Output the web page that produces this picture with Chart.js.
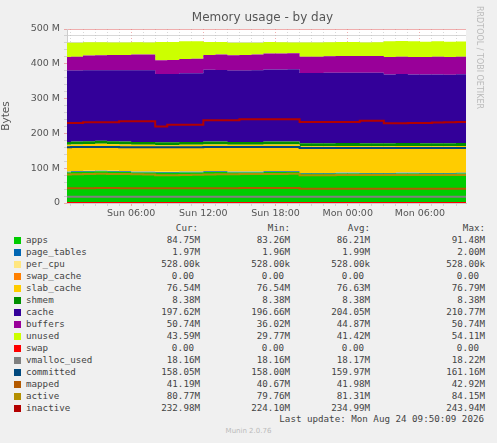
<!DOCTYPE html>
<html><head><meta charset="utf-8">
<script src="https://cdn.jsdelivr.net/npm/chart.js@4/dist/chart.umd.min.js"></script>
<style>
body{margin:0;background:#F0F0F0;width:497px;height:443px;overflow:hidden;font-family:"DejaVu Sans",sans-serif;position:relative}
#wrap{position:absolute;left:0;top:0;width:497px;height:222px}
#title{position:absolute;top:10px;left:0;width:525px;text-align:center;font-size:12px;color:#555}
#rrd{position:absolute;left:484px;top:6px;transform-origin:0 0;transform:rotate(90deg);font-size:8px;color:#bbb;white-space:nowrap}
#leg{position:absolute;left:0;top:222px;font-family:"DejaVu Sans Mono",monospace;font-size:9.2px;color:#444}
.r{position:absolute;height:12px;white-space:pre}
.sq{position:absolute;width:7px;height:7px;top:2px}
#upd{position:absolute;right:13px;top:413px;font-family:"DejaVu Sans Mono",monospace;font-size:9.2px;color:#444}
#mun{position:absolute;left:0;width:497px;text-align:center;top:427px;font-size:7px;color:#bbb}
</style></head><body>
<div id="wrap"><canvas id="c" width="497" height="222"></canvas></div>
<div id="title">Memory usage - by day</div>
<div id="rrd">RRDTOOL / TOBI OETIKER</div>
<div id="leg"></div>
<div id="upd">Last update: Mon Aug 24 09:50:09 2026</div>
<div id="mun">Munin 2.0.76</div>
<script>
const hours=[0.67,1,2,3,4,5,6,7,8,9,10,11,12,13,14,15,16,17,18,19,20,21,22,23,24,25,26,27,28,29,30,31,32,33,33.83];
const tickLabels={6:"Sun 06:00",12:"Sun 12:00",18:"Sun 18:00",24:"Mon 00:00",30:"Mon 06:00"};
const apps=[88,88,89,90,91,90,89,88,88,87,87,88,88,89,89,88,88,88,89,89,89,84,84,84,85,85,84,84,84,85,85,84,84,84,84.75];
const page_tables=[2,2,2,2,2,2,2,2,2,2,2,2,2,2,2,2,2,2,2,2,2,2,2,2,2,2,2,2,2,2,2,2,2,2,1.97];
const per_cpu=[0.53,0.53,0.53,0.53,0.53,0.53,0.53,0.53,0.53,0.53,0.53,0.53,0.53,0.53,0.53,0.53,0.53,0.53,0.53,0.53,0.53,0.53,0.53,0.53,0.53,0.53,0.53,0.53,0.53,0.53,0.53,0.53,0.53,0.53,0.53];
const swap_cache=[0,0,0,0,0,0,0,0,0,0,0,0,0,0,0,0,0,0,0,0,0,0,0,0,0,0,0,0,0,0,0,0,0,0,0];
const slab_cache=[76.7,76.7,76.6,76.7,76.8,76.6,76.6,76.7,76.6,76.6,76.7,76.6,76.6,76.7,76.6,76.6,76.7,76.6,76.6,76.7,76.6,76.6,76.6,76.7,76.6,76.6,76.6,76.7,76.6,76.6,76.6,76.6,76.6,76.6,76.54];
const shmem=[8.38,8.38,8.38,8.38,8.38,8.38,8.38,8.38,8.38,8.38,8.38,8.38,8.38,8.38,8.38,8.38,8.38,8.38,8.38,8.38,8.38,8.38,8.38,8.38,8.38,8.38,8.38,8.38,8.38,8.38,8.38,8.38,8.38,8.38,8.38];
const cache=[205,205,204,204,203,204,205,206,206,196,196,197,197,206,206,205,205,206,207,207,208,202,202,203,202,202,203,203,198,198,197,198,198,197,197.6];
const buffers=[38,39,40,42,43,44,44,45,45,40,40,41,42,43,44,44,45,45,46,46,46,47,47,47,48,48,48,48,50,50,50,50,51,51,50.74];
const unused=[42,41,40,38,37,36,36,35,35,52,52,51,50,37,36,36,35,34,33,32,31,41,41,40,40,40,39,39,45,45,45,44,44,44,43.59];
const swap=[0,0,0,0,0,0,0,0,0,0,0,0,0,0,0,0,0,0,0,0,0,0,0,0,0,0,0,0,0,0,0,0,0,0,0];
const vmalloc_used=[18.2,18.2,18.2,18.2,18.2,18.2,18.2,18.2,18.2,18.2,18.2,18.2,18.2,18.2,18.2,18.2,18.2,18.2,18.2,18.2,18.2,18.2,18.2,18.2,18.2,18.2,18.2,18.2,18.2,18.2,18.2,18.2,18.2,18.2,18.16];
const committed=[160.5,160.5,160.6,160.8,161,160.8,160.5,160.4,160.3,160,160,160.2,160.4,160.6,160.7,160.8,161,161.1,161,160.9,160.8,158.2,158.2,158.1,158.2,158.1,158.1,158.2,158,158.1,158,158.1,158,158.1,158.05];
const mapped=[42.5,42.5,42.6,42.7,42.9,42.8,42.6,42.5,42.4,42.2,42.2,42.3,42.4,42.5,42.6,42.7,42.8,42.9,42.9,42.8,42.8,40.8,40.8,40.7,40.8,40.9,40.9,41,41,41.1,41.1,41.2,41.2,41.2,41.19];
const active=[82,82,82.5,83,84,83.5,83,82.5,82,80,80,80.5,81,82,82.5,82.5,83,83,83.5,83.5,84,80,80,80,80.2,80.4,80.5,80.5,80.6,80.7,80.7,80.8,80.8,80.8,80.77];
const inactive=[230,230,230,232,232,232,235,235,235,220,225,225,225,238,238,238,241,241,241,241,241,233,233,233,233,233,236,236,229,229,230,230,231,232,232.98];
const areas=[["apps",apps,"#00CC00"],["page_tables",page_tables,"#0066B3"],["per_cpu",per_cpu,"#FFE680"],["swap_cache",swap_cache,"#FF8000"],["slab_cache",slab_cache,"#FFCC00"],["shmem",shmem,"#008F00"],["cache",cache,"#330099"],["buffers",buffers,"#990099"],["unused",unused,"#CCFF00"]];
const lines=[["swap",swap,"#FF0000"],["vmalloc_used",vmalloc_used,"#808080"],["committed",committed,"#00487D"],["mapped",mapped,"#B35A00"],["active",active,"#B38F00"],["inactive",inactive,"#B30000"]];
const pts=a=>a.map((v,i)=>({x:hours[i],y:v}));
const ds=[];
areas.forEach(([n,d,c],i)=>ds.push({label:n,data:pts(d),backgroundColor:c,borderColor:c,borderWidth:0,fill:i?'-1':'origin',stack:'mem',stepped:'after',pointRadius:0,order:2}));
lines.forEach(([n,d,c])=>ds.push({label:n,data:pts(d),borderColor:c,backgroundColor:c,borderWidth:2,fill:false,stack:n,stepped:'after',pointRadius:0,order:1}));
const bgPlugin={id:'bg',beforeDraw(ch){const a=ch.chartArea,x=ch.ctx;x.save();x.fillStyle='#fff';x.fillRect(a.left,a.top,a.right-a.left,a.bottom-a.top);x.restore();}};
new Chart(document.getElementById('c'),{type:'line',data:{datasets:ds},plugins:[bgPlugin],
options:{responsive:false,animation:false,layout:{padding:{top:29,right:31,left:0,bottom:0}},
plugins:{legend:{display:false},tooltip:{enabled:false}},
scales:{
x:{type:'linear',min:0.67,max:33.83,afterFit(s){s.height=19;},
 afterBuildTicks(s){const t=[];for(let h=1;h<=33;h++)t.push({value:h});s.ticks=t;},
 ticks:{autoSkip:false,maxRotation:0,color:'#555',font:{size:9.5,family:'DejaVu Sans'},padding:2,callback:v=>tickLabels[v]||''},
 grid:{color:c=>(c.tick&&c.tick.value%6===0)?'rgba(230,120,120,0.6)':'rgba(190,190,190,0.6)',lineWidth:1,tickLength:3,drawTicks:true},border:{color:'#ccc',dash:[1,2]}},
y:{stacked:true,min:0,max:500,afterFit(s){s.width=67;},
 afterBuildTicks(s){const t=[];for(let v=0;v<=500;v+=20)t.push({value:v});s.ticks=t;},
 ticks:{autoSkip:false,color:'#555',font:{size:9.5,family:'DejaVu Sans'},padding:4,callback:v=>v%100===0?(v===0?'0':v+' M'):''},
 title:{display:true,text:'Bytes',color:'#555',font:{size:10.5,family:'DejaVu Sans'},padding:0},
 grid:{color:c=>(c.tick&&c.tick.value%100===0)?'rgba(230,120,120,0.6)':'rgba(190,190,190,0.6)',lineWidth:1,tickLength:3},border:{color:'#ccc'}}}}});
// legend
const stats={apps:["84.75M","83.26M","86.21M","91.48M"],page_tables:["1.97M","1.96M","1.99M","2.00M"],per_cpu:["528.00k","528.00k","528.00k","528.00k"],swap_cache:["0.00","0.00","0.00","0.00"],slab_cache:["76.54M","76.54M","76.63M","76.79M"],shmem:["8.38M","8.38M","8.38M","8.38M"],cache:["197.62M","196.66M","204.05M","210.77M"],buffers:["50.74M","36.02M","44.87M","50.74M"],unused:["43.59M","29.77M","41.42M","54.11M"],swap:["0.00","0.00","0.00","0.00"],vmalloc_used:["18.16M","18.16M","18.17M","18.22M"],committed:["158.05M","158.00M","159.97M","161.16M"],mapped:["41.19M","40.67M","41.98M","42.92M"],active:["80.77M","79.76M","81.31M","84.15M"],inactive:["232.98M","224.10M","234.99M","243.94M"]};
const leg=document.getElementById('leg');
const colR=[200,290,370,485];
let h='';
["Cur:","Min:","Avg:","Max:"].forEach((t,j)=>h+=`<div class="r" style="top:0px;right:${497-colR[j]+ (j?0:2)}px">${t}</div>`);
[...areas,...lines].forEach(([n,,c],i)=>{const y=12+i*12;
 h+=`<div class="sq" style="left:14px;top:${y+3}px;background:${c}"></div><div class="r" style="left:26px;top:${y}px">${n}</div>`;
 const s=stats[n];s.forEach((v,j)=>{const pad=v.endsWith('M')||v.endsWith('k')?0:6;h+=`<div class="r" style="top:${y}px;right:${497-colR[j]+pad}px">${v}</div>`;});});
leg.innerHTML=h;leg.style.width='497px';
</script></body></html>
